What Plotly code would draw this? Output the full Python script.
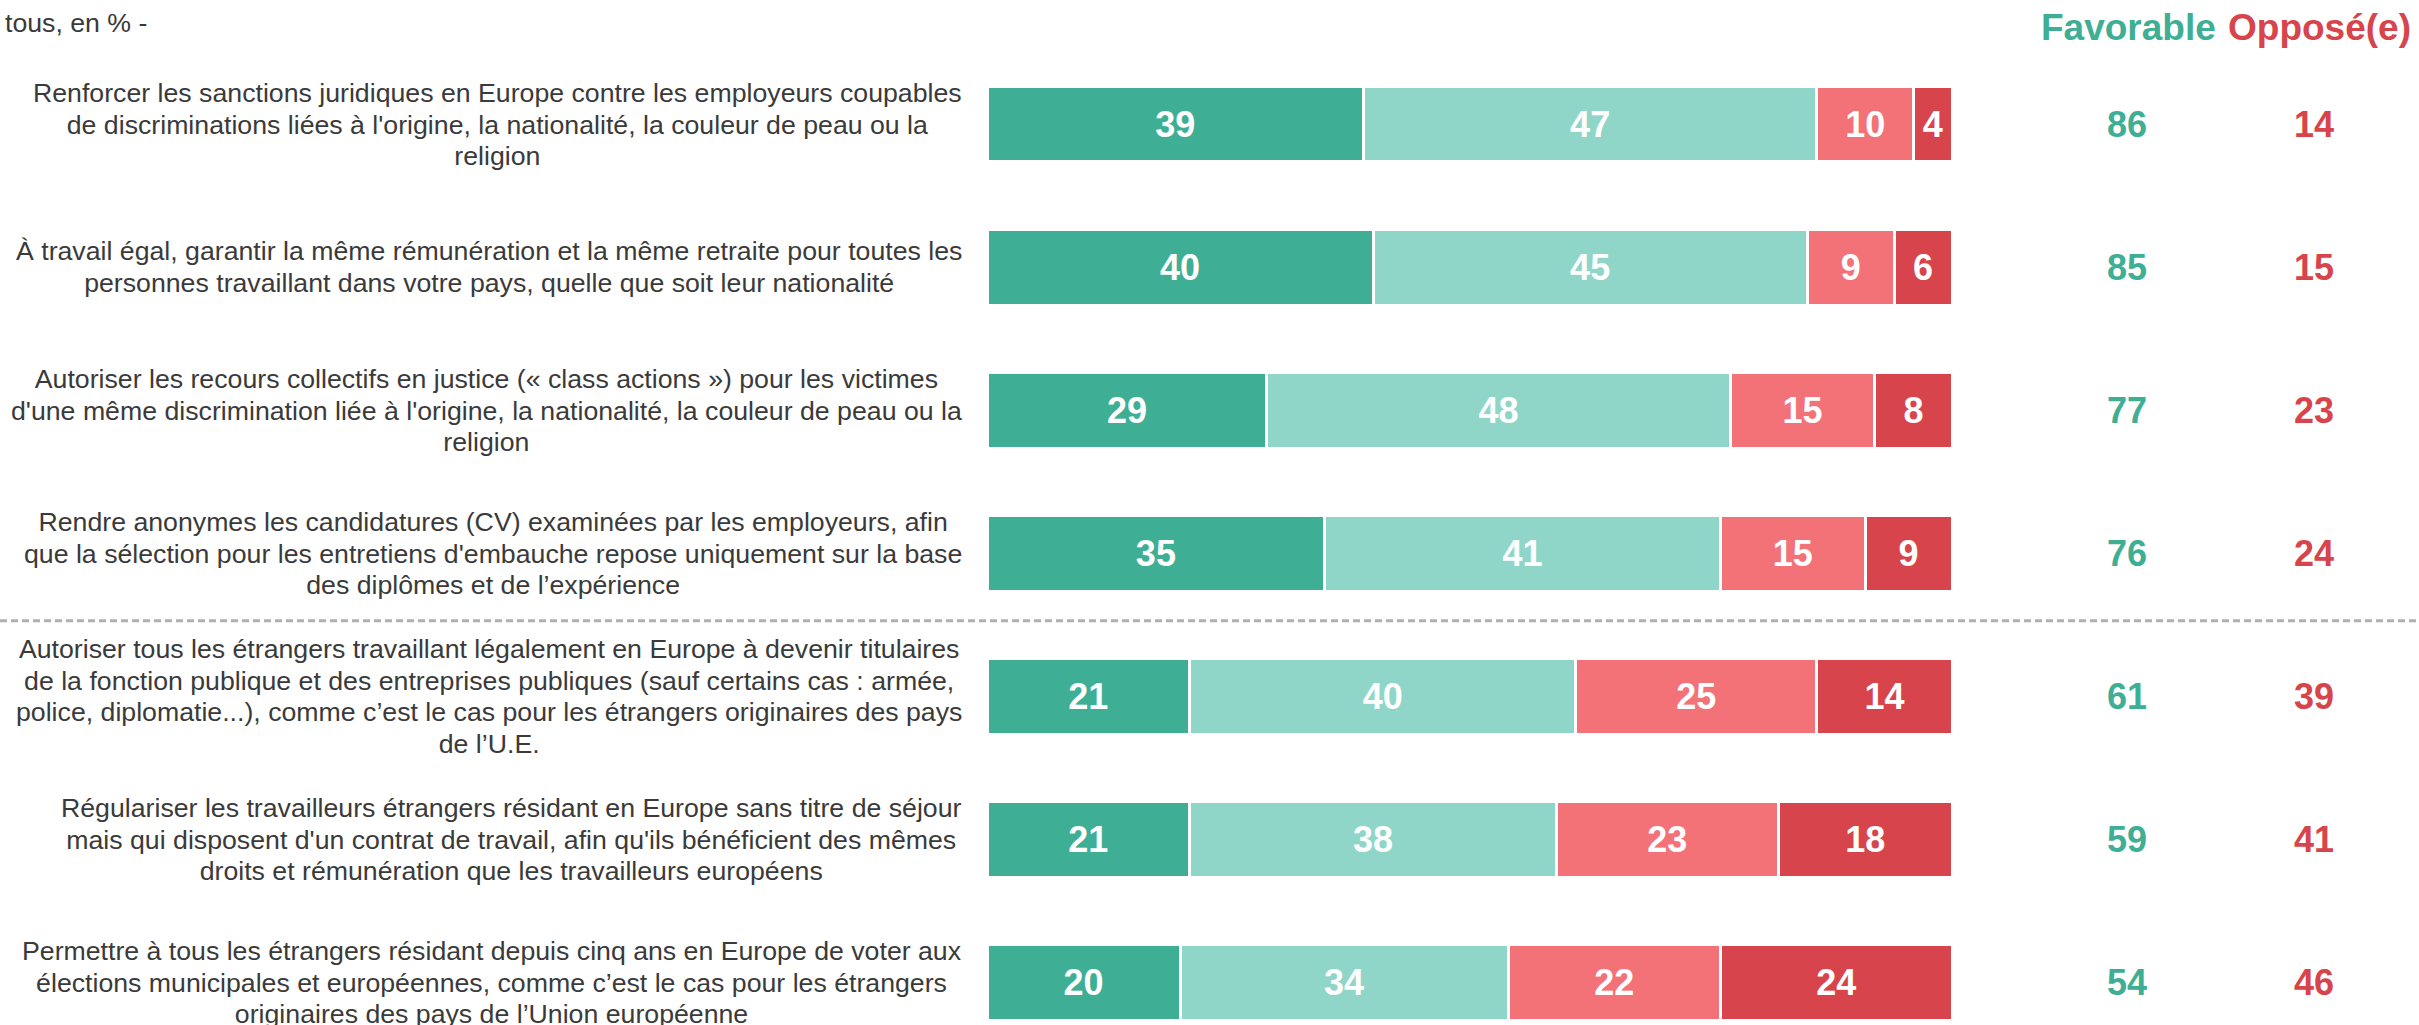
import plotly.graph_objects as go

# ---------------- data ----------------
questions = [
    "Renforcer les sanctions juridiques en Europe contre les employeurs coupables<br>de discriminations liées à l'origine, la nationalité, la couleur de peau ou la<br>religion",
    "À travail égal, garantir la même rémunération et la même retraite pour toutes les<br>personnes travaillant dans votre pays, quelle que soit leur nationalité",
    "Autoriser les recours collectifs en justice (« class actions ») pour les victimes<br>d'une même discrimination liée à l'origine, la nationalité, la couleur de peau ou la<br>religion",
    "Rendre anonymes les candidatures (CV) examinées par les employeurs, afin<br>que la sélection pour les entretiens d'embauche repose uniquement sur la base<br>des diplômes et de l’expérience",
    "Autoriser tous les étrangers travaillant légalement en Europe à devenir titulaires<br>de la fonction publique et des entreprises publiques (sauf certains cas : armée,<br>police, diplomatie...), comme c’est le cas pour les étrangers originaires des pays<br>de l’U.E.",
    "Régulariser les travailleurs étrangers résidant en Europe sans titre de séjour<br>mais qui disposent d'un contrat de travail, afin qu'ils bénéficient des mêmes<br>droits et rémunération que les travailleurs européens",
    "Permettre à tous les étrangers résidant depuis cinq ans en Europe de voter aux<br>élections municipales et européennes, comme c’est le cas pour les étrangers<br>originaires des pays de l’Union européenne",
]
series_names = ["Tout à fait favorable", "Plutôt favorable", "Plutôt opposé(e)", "Tout à fait opposé(e)"]
tres_favorable = [39, 40, 29, 35, 21, 21, 20]
plutot_favorable = [47, 45, 48, 41, 40, 38, 34]
plutot_oppose = [10, 9, 15, 15, 25, 23, 22]
tres_oppose = [4, 6, 8, 9, 14, 18, 24]
total_favorable = [86, 85, 77, 76, 61, 59, 54]
total_oppose = [14, 15, 23, 24, 39, 41, 46]
header_fav = "Favorable"
header_opp = "Opposé(e)"
subtitle = "tous, en % -"

# ---------------- style ----------------
W, H = 2419, 1025
FONT = "Liberation Sans, Arial, sans-serif"
C_DG = "#3EAE94"
C_LG = "#8FD6C8"
C_LR = "#F27277"
C_DR = "#D7444B"
TXT = "#3A3A3A"
LABEL_SIZE = 26.7      # glyph size
LABEL_LINE = 24.3      # sets line spacing (1.3 x this)

fig = go.Figure()
for name, vals, col in zip(series_names,
                           [tres_favorable, plutot_favorable, plutot_oppose, tres_oppose],
                           [C_DG, C_LG, C_LR, C_DR]):
    fig.add_trace(go.Bar(
        name=name, y=questions, x=vals, orientation="h",
        marker=dict(color=col, line=dict(color="white", width=3)),
        width=0.53,
        text=vals, texttemplate="%{text}", textposition="inside",
        insidetextanchor="middle", constraintext="none", textangle=0,
        textfont=dict(family=FONT, size=36, color="white", weight="bold"),
        hoverinfo="skip",
    ))

# x: 0 -> pixel 987, 9.65 px per unit
px0, ppu = 987.0, 9.65
x_lo = -px0 / ppu
x_hi = (W - px0) / ppu
# y rows: first center at 124 px, spacing 143.1 px
y0, step = 124.0, 143.1
y_top = -y0 / step
y_bot = (H - y0) / step


def sized(q):
    return "<br>".join(f"<span style='font-size:{LABEL_SIZE}px'>{ln}</span>" for ln in q.split("<br>"))


annotations = []
for q in questions:
    annotations.append(dict(
        x=964 / W, xref="paper", y=q, yref="y", xanchor="right", yanchor="middle",
        text=sized(q), align="center", showarrow=False,
        font=dict(family=FONT, size=LABEL_LINE, color=TXT),
    ))
for q, f, o in zip(questions, total_favorable, total_oppose):
    annotations.append(dict(
        x=2127 / W, xref="paper", y=q, yref="y", xanchor="center", yanchor="middle",
        text=str(f), showarrow=False,
        font=dict(family=FONT, size=36, color=C_DG, weight="bold"),
    ))
    annotations.append(dict(
        x=2314 / W, xref="paper", y=q, yref="y", xanchor="center", yanchor="middle",
        text=str(o), showarrow=False,
        font=dict(family=FONT, size=36, color=C_DR, weight="bold"),
    ))
annotations.append(dict(
    x=2218 / W, xref="paper", y=1 - 27 / H, yref="paper", xanchor="right", yanchor="middle",
    text=header_fav, showarrow=False,
    font=dict(family=FONT, size=37, color=C_DG, weight="bold"),
))
annotations.append(dict(
    x=2226 / W, xref="paper", y=1 - 27 / H, yref="paper", xanchor="left", yanchor="middle",
    text=header_opp, showarrow=False,
    font=dict(family=FONT, size=37, color=C_DR, weight="bold"),
))
annotations.append(dict(
    x=3 / W, xref="paper", y=1 - 23 / H, yref="paper", xanchor="left", yanchor="middle",
    text=subtitle, showarrow=False,
    font=dict(family=FONT, size=26.7, color=TXT),
))

shapes = [dict(
    type="line", xref="paper", yref="paper", x0=0, x1=1,
    y0=1 - 620.7 / H, y1=1 - 620.7 / H,
    line=dict(color="#B0B0B0", width=3, dash="7px,4px"),
)]

fig.update_layout(
    width=W, height=H, barmode="stack", showlegend=False,
    margin=dict(l=0, r=0, t=0, b=0),
    paper_bgcolor="white", plot_bgcolor="white",
    xaxis=dict(range=[x_lo, x_hi], visible=False, fixedrange=True),
    yaxis=dict(range=[y_bot, y_top], visible=False, fixedrange=True,
               categoryorder="array", categoryarray=questions),
    annotations=annotations, shapes=shapes,
    font=dict(family=FONT),
)
fig.write_html("out.html", config={"displayModeBar": False})
